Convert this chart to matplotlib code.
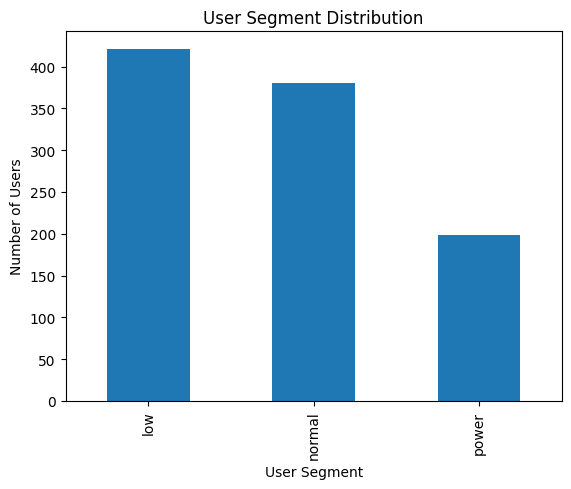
import matplotlib
matplotlib.use("Agg")
import matplotlib.pyplot as plt
import pandas as pd

segments = ["low", "normal", "power"]
counts = [421, 380, 199]

s = pd.Series(counts, index=segments)
fig, ax = plt.subplots(figsize=(6.4, 4.8), dpi=100)
s.plot(kind="bar", ax=ax, color="#1f77b4")
ax.set_title("User Segment Distribution")
ax.set_xlabel("User Segment")
ax.set_ylabel("Number of Users")
fig.savefig("out.png", dpi=100, bbox_inches="tight")
